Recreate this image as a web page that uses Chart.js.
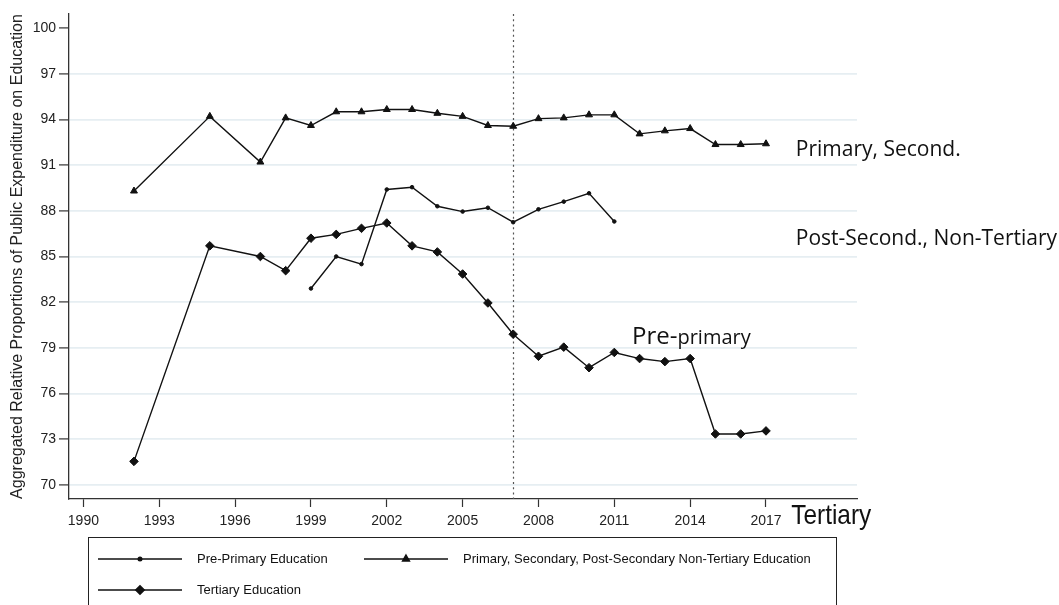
<!DOCTYPE html>
<html>
<head>
<meta charset="utf-8">
<script src="https://cdn.jsdelivr.net/npm/chart.js@4.4.0/dist/chart.umd.min.js"></script>
<style>
  html, body { margin: 0; padding: 0; background: #fff; }
  #wrap { width: 1059px; height: 605px; position: relative; }
</style>
</head>
<body>
<div id="wrap"><canvas id="c" width="1059" height="605"></canvas></div>
<script>
// Years and shares (%) of public education spending by level
const preYears = [1999, 2000, 2001, 2002, 2003, 2004, 2005, 2006, 2007, 2008, 2009, 2010, 2011];
const prePrimary = [82.9, 85.0, 84.5, 89.4, 89.55, 88.3, 87.95, 88.2, 87.25, 88.1, 88.6, 89.15, 87.3];

const mainYears = [1992, 1995, 1997, 1998, 1999, 2000, 2001, 2002, 2003, 2004, 2005, 2006,
                   2007, 2008, 2009, 2010, 2011, 2012, 2013, 2014, 2015, 2016, 2017];
const primarySecondary = [89.3, 94.2, 91.2, 94.1, 93.6, 94.5, 94.5, 94.65, 94.65, 94.4, 94.2, 93.6,
                          93.55, 94.05, 94.1, 94.3, 94.3, 93.05, 93.25, 93.4, 92.35, 92.35, 92.4];
const tertiary = [71.55, 85.7, 85.0, 84.07, 86.2, 86.45, 86.85, 87.2, 85.7, 85.3, 83.85, 81.95,
                  79.9, 78.45, 79.05, 77.7, 78.7, 78.3, 78.1, 78.3, 73.35, 73.35, 73.55];

const seriesLabels = ['Pre-Primary Education',
                      'Primary, Secondary, Post-Secondary Non-Tertiary Education',
                      'Tertiary Education'];

const xTickValues = [1990, 1993, 1996, 1999, 2002, 2005, 2008, 2011, 2014, 2017];
const xTickLabels = ['1990', '1993', '1996', '1999', '2002', '2005', '2008', '2011', '2014', '2017'];
const yTickValues = [70, 73, 76, 79, 82, 85, 88, 91, 94, 97, 100];
const yTickLabels = ['70', '73', '76', '79', '82', '85', '88', '91', '94', '97', '100'];

const referenceYear = 2007;

const AXIS_FONT = '"Liberation Sans", Arial, sans-serif';
const NOTE_FONT = '"Open Sans", "Noto Sans", sans-serif';
const INK = '#111';

const toPoints = (xs, ys) => xs.map((x, i) => ({ x, y: ys[i] }));

// dotted vertical reference line
const refLine = {
  id: 'refLine',
  beforeDatasetsDraw(chart) {
    const { ctx, chartArea, scales } = chart;
    const x = Math.round(scales.x.getPixelForValue(referenceYear)) + 0.5;
    ctx.save();
    ctx.strokeStyle = '#555';
    ctx.lineWidth = 1.2;
    ctx.setLineDash([2, 3.2]);
    ctx.beginPath();
    ctx.moveTo(x, chartArea.top);
    ctx.lineTo(x, chartArea.bottom);
    ctx.stroke();
    ctx.restore();
  }
};

// side labels and boxed legend
const notesAndLegend = {
  id: 'notesAndLegend',
  afterDraw(chart) {
    const { ctx, scales, chartArea } = chart;
    const xs = scales.x, ys = scales.y;
    ctx.save();
    ctx.fillStyle = INK;

    // labels at the right of the series
    ctx.textBaseline = 'middle';
    ctx.textAlign = 'left';
    ctx.font = '21px ' + NOTE_FONT;
    ctx.fillText('Primary, Second.', xs.getPixelForValue(2018.18), ys.getPixelForValue(91.97));
    ctx.fillText('Post-Second., Non-Tertiary', xs.getPixelForValue(2018.18), ys.getPixelForValue(86.12));

    // "Pre-primary" with a larger first part
    ctx.textBaseline = 'alphabetic';
    let px = xs.getPixelForValue(2011.7);
    const py = ys.getPixelForValue(79.27);
    ctx.font = '24px ' + NOTE_FONT;
    ctx.fillText('Pre-', px, py);
    px += ctx.measureText('Pre-').width;
    ctx.font = '20px ' + NOTE_FONT;
    ctx.fillText('primary', px, py);

    // "Tertiary" next to the last year tick
    ctx.font = '28px "Liberation Sans Narrow", "Arial Narrow", ' + AXIS_FONT;
    const tw = ctx.measureText('Tertiary').width;
    const sx = Math.min(1, 80 / tw);
    ctx.textBaseline = 'alphabetic';
    ctx.translate(xs.getPixelForValue(2018.0), chartArea.bottom + 25);
    ctx.scale(sx, 1);
    ctx.fillText('Tertiary', 0, 0);
    ctx.restore();

    // legend box
    ctx.save();
    ctx.strokeStyle = '#222';
    ctx.lineWidth = 1;
    ctx.strokeRect(88.5, 537.5, 748, 80);
    const items = [
      { ds: 0, x: 98, y: 559 },
      { ds: 1, x: 364, y: 559 },
      { ds: 2, x: 98, y: 590 }
    ];
    ctx.font = '13px ' + AXIS_FONT;
    ctx.textBaseline = 'middle';
    ctx.textAlign = 'left';
    items.forEach(it => {
      const ds = chart.data.datasets[it.ds];
      ctx.strokeStyle = INK;
      ctx.lineWidth = 1.4;
      ctx.beginPath();
      ctx.moveTo(it.x, it.y);
      ctx.lineTo(it.x + 84, it.y);
      ctx.stroke();
      ctx.fillStyle = INK;
      Chart.helpers.drawPoint(ctx, {
        pointStyle: ds.pointStyle, radius: ds.pointRadius, borderWidth: 1, rotation: 0
      }, it.x + 42, it.y);
      ctx.fillStyle = INK;
      ctx.fillText(ds.label, it.x + 99, it.y);
    });
    ctx.restore();
  }
};

const lineStyle = {
  borderColor: INK,
  backgroundColor: INK,
  pointBorderColor: INK,
  pointBackgroundColor: INK,
  borderWidth: 1.4,
  pointBorderWidth: 1,
  tension: 0,
  fill: false
};

new Chart(document.getElementById('c'), {
  type: 'line',
  data: {
    datasets: [
      Object.assign({ label: seriesLabels[0], data: toPoints(preYears, prePrimary),
                      pointStyle: 'circle', pointRadius: 1.8 }, lineStyle),
      Object.assign({ label: seriesLabels[1], data: toPoints(mainYears, primarySecondary),
                      pointStyle: 'triangle', pointRadius: 4 }, lineStyle),
      Object.assign({ label: seriesLabels[2], data: toPoints(mainYears, tertiary),
                      pointStyle: 'rectRot', pointRadius: 4.3 }, lineStyle)
    ]
  },
  plugins: [refLine, notesAndLegend],
  options: {
    responsive: false,
    animation: false,
    layout: { padding: { left: 0, top: 14, right: 202, bottom: 76 } },
    plugins: { legend: { display: false }, tooltip: { enabled: false } },
    scales: {
      x: {
        type: 'linear',
        min: 1989.43,
        max: 2020.6,
        afterBuildTicks: s => { s.ticks = xTickValues.map(v => ({ value: v })); },
        afterFit: s => { s.height = 30; },
        grid: { drawOnChartArea: false, drawTicks: true, tickLength: 8, tickColor: '#333', tickWidth: 1.2 },
        border: { color: '#333', width: 1.3 },
        ticks: {
          autoSkip: false, maxRotation: 0, padding: 6, color: '#222',
          font: { family: AXIS_FONT, size: 14 },
          callback: (v, i) => xTickLabels[i]
        }
      },
      y: {
        min: 69.08,
        max: 100.92,
        afterBuildTicks: s => { s.ticks = yTickValues.map(v => ({ value: v })); },
        afterFit: s => { s.width = 69; },
        grid: {
          color: c => (c.tick && c.tick.value === 100) ? 'rgba(0,0,0,0)' : '#e6eef2',
          lineWidth: 1.8,
          tickLength: 10, tickColor: '#333', tickWidth: 1.2
        },
        border: { color: '#333', width: 1.3 },
        ticks: {
          padding: 3, color: '#222',
          font: { family: AXIS_FONT, size: 14 },
          callback: (v, i) => yTickLabels[i]
        },
        title: {
          display: true,
          text: 'Aggregated Relative Proportions of Public Expenditure on Education',
          color: '#222',
          font: { family: AXIS_FONT, size: 16 },
          padding: { top: 8, bottom: 0 }
        }
      }
    }
  }
});
</script>
</body>
</html>
